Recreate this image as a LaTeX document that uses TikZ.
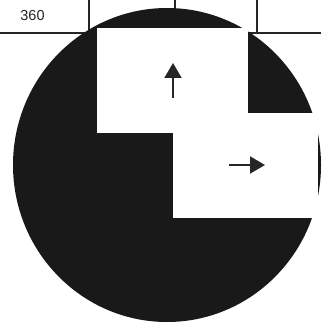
\documentclass[tikz,border=0pt]{standalone}
\usepackage{fontspec}
\setmainfont{Liberation Sans}
\usepackage{tikz}
\usetikzlibrary{arrows.meta}

\begin{document}
\begin{tikzpicture}[x=1pt,y=-1pt]
        \tikzstyle{grid line}=[draw=black!85, line width=1.3pt]
        \tikzstyle{window}=[fill=white, draw=none]
        \tikzstyle{motion}=[line width=2pt, black!85, -{Triangle[length=15pt,width=17pt]}]
        % Parameters
        \def\discX{167}
        \def\discY{165}

        \useasboundingbox (0,0) rectangle (321,323);

        % Table row with the angle
        \draw[grid line] (0,33) -- (321,33);
        \foreach \x in {89,175,257}
            \draw[grid line] (\x,0) -- (\x,33);
        \node[font=\fontsize{14.5}{14.5}\selectfont, text=black!85] (angle) at (32.5,16) {360};

        % Black disc
        \fill[black!90] (\discX,\discY) ellipse [x radius=154, y radius=157];

        % White openings
        \fill[window] (97,28) rectangle (248,133);
        \fill[window] (173,113) rectangle (318,218);

        % Motion arrows
        \coordinate (up-tail) at (173,98);
        \coordinate (up-tip) at (173,63);
        \coordinate (right-tail) at (229,165);
        \coordinate (right-tip) at (265,165);
        \draw[motion] (up-tail) -- (up-tip);
        \draw[motion] (right-tail) -- (right-tip);
    \end{tikzpicture}
\end{document}
